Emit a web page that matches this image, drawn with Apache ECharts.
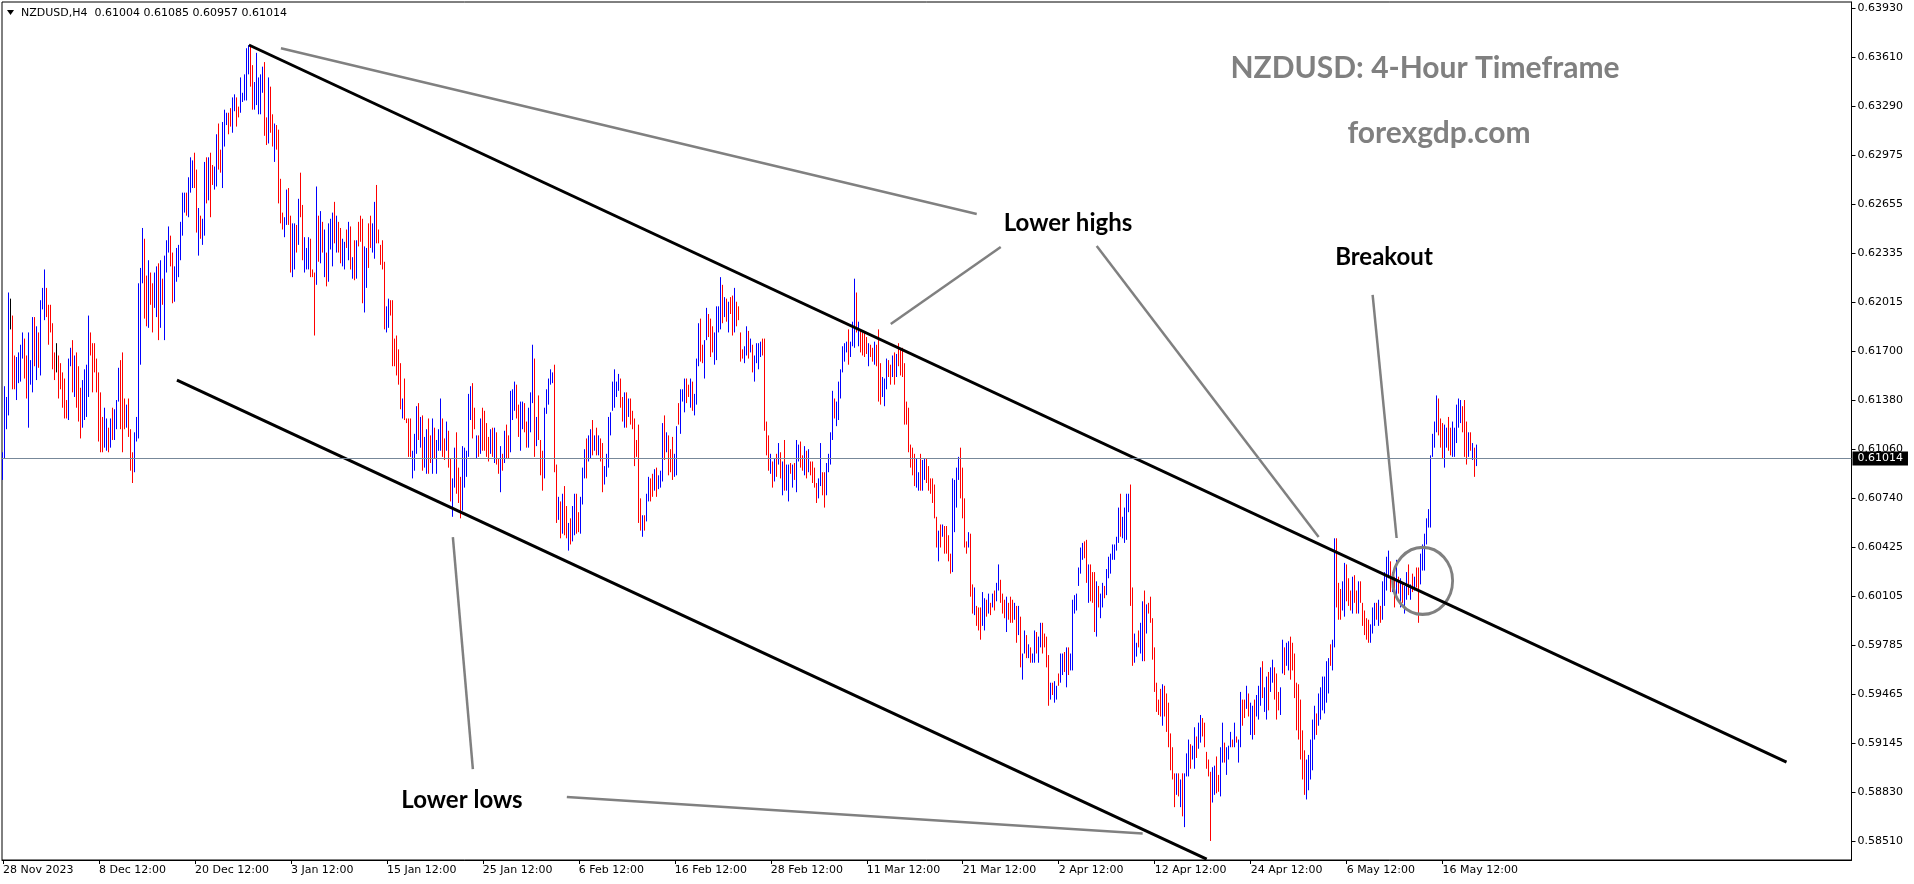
<!DOCTYPE html>
<html>
<head>
<meta charset="utf-8">
<script src="https://cdn.jsdelivr.net/npm/echarts@6/dist/echarts.min.js"></script>
<style>
html,body{margin:0;padding:0;background:#fff;}
#chart{width:1914px;height:884px;}
</style>
</head>
<body>
<div id="chart"></div>
<script>
// ---------- DATA (prices in pips: value / 10000) ----------
const tickLabels = ['28 Nov 2023','8 Dec 12:00','20 Dec 12:00','3 Jan 12:00','15 Jan 12:00','25 Jan 12:00','6 Feb 12:00','16 Feb 12:00','28 Feb 12:00','11 Mar 12:00','21 Mar 12:00','2 Apr 12:00','12 Apr 12:00','24 Apr 12:00','6 May 12:00','16 May 12:00'];
const barsPerLabel = 48;
const totalSlots = 925;
const priceTicks = [0.63930,0.63610,0.63290,0.62975,0.62655,0.62335,0.62015,0.61700,0.61380,0.61060,0.60740,0.60425,0.60105,0.59785,0.59465,0.59145,0.58830,0.58510];
const priceMin = 0.58386;
const priceMax = 0.63971;
const lastPrice = 0.61014;
const headerText = 'NZDUSD,H4  0.61004 0.61085 0.60957 0.61014';

const highs = [
6104,6147,6140,6208,6204,6193,6167,6166,6169,6174,
6182,6178,6167,6182,6164,6192,6192,6186,6182,6203,
6211,6223,6211,6200,6200,6188,6169,6175,6167,6162,
6156,6152,6138,6165,6172,6177,6167,6169,6160,6146,
6151,6158,6161,6193,6182,6175,6175,6165,6156,6143,
6127,6133,6126,6120,6126,6133,6132,6138,6159,6164,
6169,6139,6135,6139,6119,6104,6117,6127,6214,6224,
6250,6243,6219,6229,6221,6214,6221,6225,6227,6229,
6217,6232,6242,6251,6245,6234,6225,6237,6239,6254,
6273,6273,6273,6283,6296,6294,6299,6288,6263,6258,
6256,6293,6296,6296,6299,6291,6290,6311,6318,6301,
6319,6327,6325,6325,6328,6335,6337,6335,6329,6348,
6338,6350,6367,6369,
6368,6356,6345,6364,6348,6350,6355,6358,6322,6348,
6342,6324,6318,6317,6314,6282,6260,6257,6275,6276,
6258,6253,6253,6252,6269,6286,6265,6244,6237,6244,
6243,6223,6221,6277,6258,6261,6254,6249,6234,6253,
6256,6260,6267,6258,6254,6250,6243,6241,6249,6254,
6251,6231,6242,6242,6254,6258,6256,6238,6237,6253,
6258,6253,6267,6278,6249,6239,6242,6228,6199,6204,
6203,6203,6178,6180,6171,6162,6139,6152,6126,6126,
6126,6105,6116,6134,6136,6127,6128,6114,6119,6126,
6115,6126,6120,6112,6119,6139,6126,6113,6124,6118,
6100,6087,6107,6117,6094,6088,6108,6107,6105,6142,
6147,6149,6133,6115,6115,6126,6133,6131,6123,6114,
6119,6120,6120,6117,6100,
6108,6103,6118,6122,6115,6144,6145,6150,6148,6135,
6137,6137,6136,6124,6133,6143,6174,6165,6127,6141,
6112,6105,6133,6145,6152,6158,6156,6161,6096,6075,
6072,6077,6082,6069,6058,6061,6069,6077,6077,6065,
6075,6094,6106,6113,6115,6119,6125,6115,6120,6115,
6113,6110,6095,6103,6127,6130,6150,6158,6150,6155,
6152,6140,6143,6143,6139,6139,6131,6126,6112,6122,
6074,6063,6063,6077,6088,6087,6090,6093,6094,6089,
6092,6123,6128,6117,6115,6106,6114,6103,6121,6136,
6145,6145,6152,6152,6148,6152,6150,6142,6165,6188,
6191,6174,6177,6198,6194,6191,6186,6182,6199,6199,
6218,6213,6205,6204,6202,6205,6206,6211,6202,6199,
6182,6171,6173,6186,6183,
6178,6174,6167,6175,6175,6176,6178,6178,6124,6115,
6103,6098,6100,6103,6110,6104,6098,6112,6096,6096,
6097,6096,6097,6112,6109,6111,6102,6108,6105,6106,
6098,6098,6094,6084,6087,6110,6091,6091,6097,6103,
6117,6144,6139,6137,6150,6158,6173,6175,6176,6184,
6176,6189,6217,6208,6189,6184,6182,6182,6179,6175,
6174,6172,6176,6174,6184,6162,6153,6152,6165,6164,
6161,6167,6169,6168,6175,6171,6172,6162,6137,6133,
6109,6107,6103,6100,6091,6103,6099,6100,6100,6095,
6087,6087,6083,6062,6053,6057,6057,6056,6056,6050,
6038,6087,6086,6094,6101,6107,6094,6074,6046,6052,
6051,6018,6016,6004,6003,6003,6013,6009,6008,6012,
6006,6012,6014,6019,6031,
6021,6012,6008,6010,6006,6010,6008,6006,6004,6004,
5997,5973,5988,5985,5979,5977,5973,5988,5987,5984,
5993,5993,5986,5984,5972,5954,5954,5955,5952,5960,
5973,5973,5974,5977,5977,5973,6008,6011,6012,6029,
6042,6045,6046,6047,6031,6031,6026,6026,6020,6017,
6012,6019,6017,6028,6036,6038,6044,6044,6049,6068,
6077,6062,6068,6077,6077,6083,6016,5986,5980,5988,
5993,6007,6014,6005,6006,6010,5996,5977,5954,5943,
5950,5953,5952,5947,5941,5921,5912,5895,5895,5895,
5891,5895,5895,5908,5917,5914,5913,5925,5919,5928,
5933,5931,5928,5909,5904,5896,5899,5900,5906,5894,
5912,5928,5915,5912,5913,5922,5917,5928,5919,5917,
5948,5943,5943,5952,5947,
5941,5939,5943,5946,5952,5964,5968,5951,5958,5961,
5964,5969,5964,5960,5948,5951,5982,5977,5980,5981,
5984,5980,5973,5954,5953,5943,5923,5910,5904,5907,
5917,5930,5939,5934,5947,5951,5958,5958,5968,5970,
5979,5982,6048,6048,6019,6015,6020,6032,6031,6022,
6014,6023,6024,6014,6020,6020,6006,6001,5996,5995,
5992,6003,6006,6006,6008,6004,6020,6026,6036,6040,
6033,6026,6023,6034,6023,6022,6019,6017,6026,6031,
6018,6025,6023,6029,6029,6038,6044,6051,6061,6067,
6102,6116,6124,6141,6139,6126,6123,6122,6120,6127,
6120,6124,6120,6135,6139,6138,6134,6138,6124,6117,
6117,6110,6107,6109
];

const lows = [
6086,6100,6119,6128,6184,6145,6145,6138,6149,6150,
6165,6152,6139,6120,6148,6143,6160,6151,6159,6154,
6197,6190,6192,6174,6182,6158,6151,6156,6139,6145,
6133,6126,6126,6125,6160,6143,6140,6133,6124,6113,
6120,6125,6127,6140,6167,6143,6156,6143,6111,6104,
6104,6107,6105,6104,6107,6112,6112,6119,6137,6119,
6104,6119,6120,6114,6092,6084,6091,6111,6113,6161,
6214,6191,6186,6185,6200,6182,6198,6192,6177,6185,
6200,6177,6221,6234,6225,6201,6202,6215,6218,6229,
6245,6260,6258,6257,6273,6276,6276,6247,6232,6243,
6239,6245,6266,6268,6257,6278,6275,6277,6288,6286,
6276,6303,6317,6311,6316,6312,6326,6316,6322,6325,
6332,6333,6333,6350,
6342,6327,6327,6330,6324,6324,6338,6310,6304,6305,
6312,6303,6293,6301,6266,6253,6249,6244,6252,6252,
6221,6218,6223,6234,6239,6257,6229,6221,6223,6223,
6218,6218,6180,6213,6228,6227,6234,6218,6212,6215,
6236,6225,6240,6234,6234,6227,6225,6223,6237,6229,
6223,6217,6216,6217,6238,6241,6201,6195,6211,6224,
6237,6234,6230,6240,6240,6226,6223,6184,6182,6185,
6193,6160,6160,6154,6148,6132,6126,6125,6123,6101,
6101,6087,6092,6103,6112,6107,6092,6094,6090,6090,
6097,6090,6100,6090,6105,6105,6101,6099,6105,6094,
6072,6062,6081,6077,6071,6061,6066,6081,6088,6101,
6125,6113,6119,6100,6101,6103,6105,6105,6101,6098,
6103,6101,6097,6096,6090,
6078,6092,6097,6100,6100,6104,6125,6131,6126,6114,
6105,6119,6117,6107,6107,6117,6136,6101,6108,6112,
6089,6079,6087,6129,6135,6148,6149,6091,6058,6060,
6048,6051,6050,6048,6040,6044,6046,6050,6051,6052,
6051,6070,6087,6087,6098,6100,6102,6105,6102,6102,
6098,6078,6083,6088,6094,6115,6131,6133,6140,6144,
6133,6124,6120,6120,6127,6122,6119,6095,6101,6058,
6053,6049,6053,6059,6072,6072,6075,6079,6075,6080,
6081,6085,6099,6104,6089,6091,6086,6088,6089,6122,
6116,6137,6130,6136,6140,6133,6131,6128,6135,6160,
6163,6162,6152,6177,6179,6166,6169,6161,6164,6182,
6184,6188,6192,6189,6182,6194,6180,6182,6186,6190,
6163,6165,6162,6167,6165,
6169,6156,6150,6162,6158,6166,6167,6118,6102,6092,
6090,6081,6085,6088,6096,6087,6076,6079,6079,6072,
6090,6081,6086,6078,6098,6094,6092,6089,6087,6091,
6089,6084,6081,6071,6074,6082,6076,6068,6076,6091,
6096,6112,6126,6121,6125,6139,6156,6163,6169,6161,
6166,6173,6172,6182,6173,6169,6167,6166,6168,6160,
6166,6163,6161,6160,6137,6135,6140,6134,6145,6153,
6148,6153,6148,6153,6160,6154,6153,6122,6122,6104,
6094,6089,6082,6081,6079,6079,6079,6086,6084,6079,
6077,6071,6061,6042,6033,6042,6049,6038,6038,6033,
6025,6026,6052,6068,6086,6074,6061,6042,6038,6042,
6010,5999,5998,5991,5988,5982,5991,5988,5997,5999,
5998,6003,6001,6007,6014,
6006,5999,5996,5987,5995,5993,5993,5995,5980,5985,
5964,5956,5973,5970,5970,5967,5967,5967,5973,5967,
5977,5973,5977,5964,5939,5943,5946,5941,5943,5952,
5954,5959,5961,5951,5959,5962,5962,5999,6001,6017,
6025,6034,6035,6019,6006,6007,6006,5987,5984,6003,
5996,6003,6009,6011,6022,6025,6034,6034,6040,6045,
6049,6048,6045,6047,6065,6004,5965,5967,5971,5977,
5973,5968,5968,5986,5999,5993,5969,5948,5935,5933,
5932,5926,5932,5922,5912,5897,5891,5873,5881,5880,
5873,5867,5860,5893,5893,5898,5904,5898,5905,5911,
5915,5919,5912,5898,5893,5851,5876,5881,5882,5883,
5880,5902,5902,5894,5904,5912,5912,5912,5915,5902,
5912,5926,5931,5937,5932,
5920,5917,5920,5932,5930,5939,5944,5935,5930,5936,
5948,5954,5943,5930,5936,5933,5960,5959,5965,5962,
5956,5962,5944,5923,5917,5904,5891,5881,5878,5884,
5891,5897,5917,5920,5926,5930,5936,5934,5941,5947,
5965,5962,5977,6003,5995,5995,6001,5997,6007,6004,
6001,5999,6006,5999,5999,6006,5991,5985,5982,5980,
5980,5986,5991,5995,5991,5993,5995,6004,6014,6022,
6013,6013,6003,6009,6012,6003,6006,5999,6008,6011,
6008,6013,6014,6016,5993,6018,6027,6027,6044,6055,
6055,6101,6107,6117,6115,6107,6100,6094,6107,6105,
6102,6101,6101,6110,6120,6123,6117,6101,6096,6101,
6105,6099,6088,6095
];

// B = bullish (blue), R = bearish (red), D = doji (black)
const candleColors = (
'BBBBDRRBBB BRRBBBRBRB BBRRRRRDRR RRRBBRBRRR BBBBRRRRRR RBBRBRBBBR RRBRRRBBBB BRRBRRBBRB RBBBRRBBBB BBRBBBRRBR BBRBRRBBRR BBBRRBBRRB BBBB ' +
'RRBBBBBRRB RRBRRRRBBR RBBRBRRBBB RRRBRBRBRB BBRBRRBBRB RBRBRRRBBR RBBRRRRRBB RRRRRRBRRR RBBBRBRBBR RBRBBBRRBR RBBRRRBBBB BRRBRBRRRR BRBRR ' +
'BRBRRBBBRR BBRRBBBRBR RRBBBBBRRB RBRRBRBBRR BBBRBBRBRB RRBBBBBBBB RRBRBRRRRR RBRBBRRBRB BBRBRRRBBR BBBRRBRBBB RRBBRRRBBB BRBRBRRBRR RRBBR ' +
'BRBBBBRRRR BRBRBRBRBB RBRBBRRBRB RRRRBBRRBB BBRBBBBBBR BBBRBRRRRB RRBRRRBBBR RBRBRRRRRR RRRBBRBBRR RRRRBRBRRR RBBBBRRRRB RRBRRRBBRB RBRBB ' +
'RRRBRRRBRB RBBRBRBBRB BRRRRBRBBR BBRBRBBBBB BBRRBRRRBR BBRBBBBBBB RBBBBRRBBR BBRBRRRRRR RBRRRRRRBR BRBBBRBBRB BRRRRRBBRR BBRBBBRBRB BRRBR ' +
'BBRBBBRBBR BBRRRBBRBB RRRRRRRRBB BBBRBBBBBB RBBRRRBBRR RBRRBRRRRR BBBRBRBBBB RBRBRBRBBR BRBRRBBBBB BBBBRRRBBR RBBBBBRRRB RBRB'
).replace(/ /g, '');

// Annotation geometry in data space: [bar index, price]
const channelUpper = [[123, 0.63691], [892, 0.59023]];
const channelLower = [[87, 0.61510], [602, 0.58392]];
const pointerLines = [
  [[139, 0.63670], [487, 0.62591]],
  [[499, 0.62376], [444, 0.61875]],
  [[547, 0.62383], [658, 0.60488]],
  [[685, 0.62064], [697, 0.60482]],
  [[282, 0.58796], [570, 0.58559]],
  [[225, 0.60488], [235, 0.58978]]
];
const breakoutCircle = [710, 0.60203];

// ---------- BUILD ----------
const categories = [];
for (let i = 0; i < totalSlots; i++) categories.push(String(i));

const candles = highs.map((h, i) => {
  const hi = h / 10000, lo = lows[i] / 10000, k = candleColors[i];
  if (k === 'B') return [lo, hi, lo, hi];
  if (k === 'R') return [hi, lo, lo, hi];
  return { value: [lo, hi, lo, hi], itemStyle: { color: '#000', color0: '#000', borderColor: '#000', borderColor0: '#000' } };
});

const isLabelIdx = (idx) => idx % barsPerLabel === 0 && (idx / barsPerLabel) < tickLabels.length;

const black = { color: '#000000', width: 3, type: 'solid' };
const gray = { color: '#808080', width: 2.5, type: 'solid' };
const lineItem = (seg, style) => [{ coord: seg[0], lineStyle: style }, { coord: seg[1], lineStyle: style }];

const markLineData = [
  lineItem(channelUpper, black),
  lineItem(channelLower, black),
  ...pointerLines.map(s => lineItem(s, gray)),
  {
    yAxis: lastPrice,
    lineStyle: { color: '#778899', width: 1, type: 'solid' },
    label: {
      show: true, position: 'end', distance: 1,
      formatter: lastPrice.toFixed(5),
      color: '#ffffff', backgroundColor: '#000000',
      padding: [2, 5, 1, 5], lineHeight: 11,
      fontSize: 11, fontFamily: 'DejaVu Sans'
    }
  }
];

const chart = echarts.init(document.getElementById('chart'), null, { renderer: 'canvas' });
chart.setOption({
  animation: false,
  backgroundColor: '#ffffff',
  textStyle: { fontFamily: 'DejaVu Sans' },
  grid: { left: 1.5, top: 2, right: 62.5, bottom: 24, show: true, borderColor: '#000', borderWidth: 1, backgroundColor: '#fff' },
  xAxis: {
    type: 'category',
    data: categories,
    boundaryGap: true,
    axisLine: { show: true, lineStyle: { color: '#000', width: 1 } },
    axisTick: { show: true, alignWithLabel: true, length: 4, interval: (idx) => isLabelIdx(idx), lineStyle: { color: '#000' } },
    axisLabel: {
      interval: (idx) => isLabelIdx(idx),
      formatter: (v, idx) => tickLabels[Math.round(Number(v) / barsPerLabel)] || '',
      align: 'left', color: '#000', fontSize: 11, fontFamily: 'DejaVu Sans', margin: 5
    },
    splitLine: { show: false }
  },
  yAxis: {
    type: 'value',
    position: 'right',
    min: priceMin, max: priceMax,
    axisLine: { show: true, onZero: false, lineStyle: { color: '#000', width: 1 } },
    axisTick: { show: true, length: 4, customValues: priceTicks, lineStyle: { color: '#000' } },
    axisLabel: { customValues: priceTicks, formatter: (v) => Number(v).toFixed(5), color: '#000', fontSize: 11, fontFamily: 'DejaVu Sans', margin: 6 },
    splitLine: { show: false }
  },
  series: [{
    type: 'candlestick',
    large: false,
    barWidth: 1,
    data: candles,
    itemStyle: { color: '#0000ff', color0: '#ff0000', borderColor: '#0000ff', borderColor0: '#ff0000', borderWidth: 1 },
    emphasis: { disabled: true },
    markLine: {
      silent: true, animation: false, symbol: ['none', 'none'], z: 10,
      label: { show: false },
      data: markLineData
    },
    markPoint: {
      silent: true, animation: false,
      data: [{
        coord: breakoutCircle, symbol: 'circle', symbolSize: [60, 67],
        itemStyle: { color: 'rgba(0,0,0,0)', borderColor: '#808080', borderWidth: 3 },
        label: { show: false }
      }]
    }
  }],
  graphic: [
    { type: 'polygon', shape: { points: [[7, 10], [14, 10], [10.5, 15]] }, style: { fill: '#000' } },
    { type: 'text', x: 21, y: 13, style: { text: headerText, fill: '#000', font: '11px "DejaVu Sans"', align: 'left', verticalAlign: 'middle', textAlign: 'left', textVerticalAlign: 'middle' } },
    { type: 'text', x: 1425, y: 68, z: 100, style: { text: 'NZDUSD: 4-Hour Timeframe', fill: '#808080', font: 'bold 30px Lato', align: 'center', verticalAlign: 'middle', textAlign: 'center', textVerticalAlign: 'middle' } },
    { type: 'text', x: 1439, y: 133, z: 100, style: { text: 'forexgdp.com', fill: '#808080', font: 'bold 30px Lato', align: 'center', verticalAlign: 'middle', textAlign: 'center', textVerticalAlign: 'middle' } },
    { type: 'text', x: 1068, y: 223, z: 100, style: { text: 'Lower highs', fill: '#000', font: 'bold 24px Lato', align: 'center', verticalAlign: 'middle', textAlign: 'center', textVerticalAlign: 'middle' } },
    { type: 'text', x: 1384, y: 257, z: 100, style: { text: 'Breakout', fill: '#000', font: 'bold 24px Lato', align: 'center', verticalAlign: 'middle', textAlign: 'center', textVerticalAlign: 'middle' } },
    { type: 'text', x: 462, y: 800, z: 100, style: { text: 'Lower lows', fill: '#000', font: 'bold 24px Lato', align: 'center', verticalAlign: 'middle', textAlign: 'center', textVerticalAlign: 'middle' } }
  ]
});
</script>
</body>
</html>
